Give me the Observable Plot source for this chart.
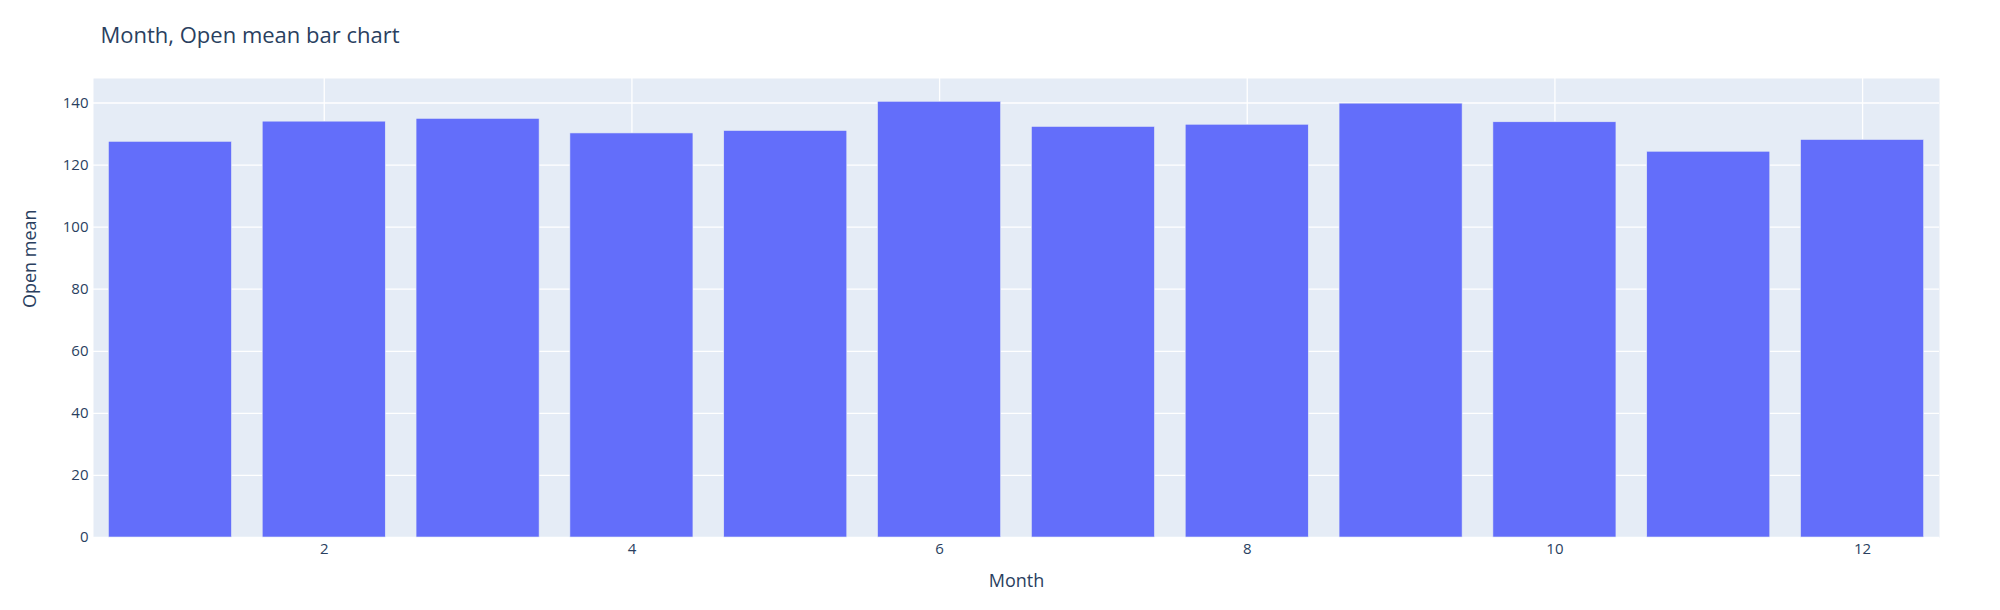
<!DOCTYPE html>
<html>
<head>
<meta charset="utf-8">
<script src="https://cdn.jsdelivr.net/npm/d3@7"></script>
<script src="https://cdn.jsdelivr.net/npm/@observablehq/plot@0.6"></script>
<style>
  html, body { margin: 0; padding: 0; background: #fff; }
  #chart svg { display: block; }
</style>
</head>
<body>
<div id="chart"></div>
<script>
const months = [1, 2, 3, 4, 5, 6, 7, 8, 9, 10, 11, 12];
const openMean = [127.5, 134.0, 134.9, 130.2, 131.0, 140.4, 132.3, 133.0, 139.8, 133.8, 124.3, 128.1];
const xTicks = [2, 4, 6, 8, 10, 12];
const yTicks = [0, 20, 40, 60, 80, 100, 120, 140];
const titleText = "Month, Open mean bar chart";
const xLabel = "Month";
const yLabel = "Open mean";

const data = months.map((m, i) => ({month: m, value: openMean[i]}));

const font = "'Open Sans', verdana, arial, sans-serif";
const ink = "#2a3f5f";

const chart = Plot.plot({
  width: 2000,
  height: 610,
  marginLeft: 93,
  marginRight: 61,
  marginTop: 78,
  marginBottom: 73,
  style: {fontFamily: font, background: "#fff", color: ink},
  x: {domain: [0.5, 12.5], ticks: xTicks},
  y: {domain: [0, 147.9], ticks: yTicks},
  marks: [
    Plot.frame({fill: "#E5ECF6", stroke: null}),
    Plot.gridX(xTicks, {stroke: "#fff", strokeOpacity: 1, strokeWidth: 1.3}),
    Plot.gridY(yTicks, {stroke: "#fff", strokeOpacity: 1, strokeWidth: 1.3}),
    Plot.rectY(data, {
      x1: d => d.month - 0.4,
      x2: d => d.month + 0.4,
      y1: 0,
      y2: "value",
      fill: "#636EFA",
      stroke: "#E5ECF6",
      strokeWidth: 0.6,
      inset: 0
    }),
    Plot.axisX(xTicks, {tickSize: 0, tickPadding: 6, fontSize: 15, fill: ink, label: null, tickFormat: d3.format("d")}),
    Plot.axisY(yTicks, {tickSize: 0, tickPadding: 5, fontSize: 15, fill: ink, label: null, tickFormat: d3.format("d")}),
    Plot.text([xLabel], {frameAnchor: "bottom", dy: 49, fontSize: 18, fill: ink, text: d => d}),
    Plot.text([yLabel], {frameAnchor: "left", dx: -63, rotate: -90, fontSize: 18, fill: ink, text: d => d}),
    Plot.text([titleText], {frameAnchor: "top-left", textAnchor: "start", lineAnchor: "bottom", dx: 7, dy: -36, fontSize: 22, fill: ink, text: d => d})
  ]
});
document.getElementById("chart").appendChild(chart);
</script>
</body>
</html>
